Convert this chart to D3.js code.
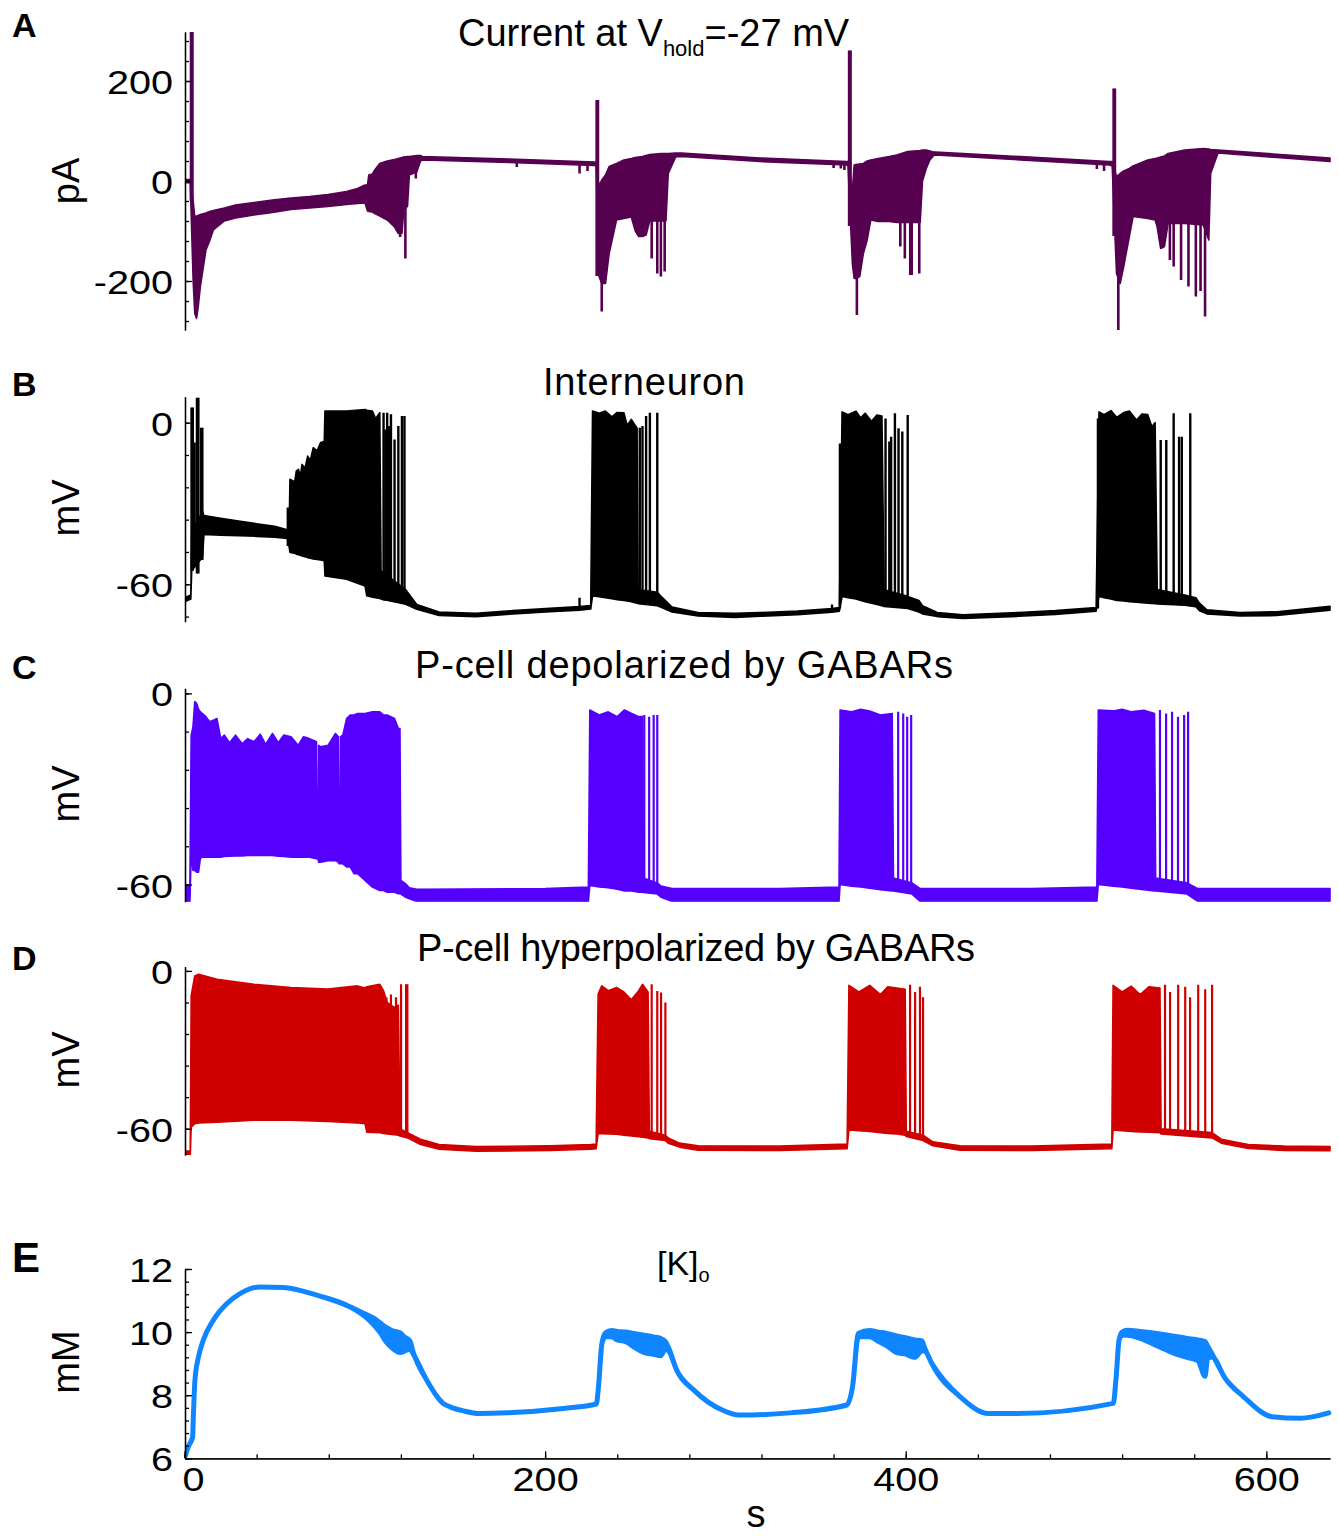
<!DOCTYPE html>
<html><head><meta charset="utf-8">
<script src="https://cdn.jsdelivr.net/npm/d3@7"></script>
<style>
body{margin:0;background:#fff}
svg text{font-family:"Liberation Sans",Arial,Helvetica,sans-serif;fill:#000}
</style></head>
<body><svg id="chart" width="1339" height="1536"></svg>
<script>
// ---------------- DATA (time in s, values in panel units) ----------------
// Envelopes: [t, upper, lower]; Spikes: [t, top, bottom]
const aEnv = [
[0,3,-3],[3.2,3,-4],[4.8,-40,-200],[5.7,-71,-265],[6.7,-70,-275],[7.5,-69,-255],[8.8,-67,-211],
[11.9,-64,-138],[13.9,-61,-120],[16.0,-59,-98],[22.1,-54,-80],[28.3,-48,-74],[38.5,-43,-68],
[48.8,-38,-63],[59.1,-34,-57],[69.3,-31,-54],[79.6,-27,-51],[89.9,-21,-47],[96.0,-15,-45],
[100.1,-8,-44],[101.5,-8,-60],[102.2,12,-61],[104.2,14,-62],[105.5,22,-65],[108.3,35,-70],
[112.4,40,-78],[116.5,43,-92],[118.6,45,-105],[120.6,47,-105],[121.6,48,-60],[123.7,49,-50],
[124.7,49,12],[128.8,51,18],[130.9,51,40],[131.9,49,42],[180,44,37],[227.3,38,31],[228.3,38,30],
[229.8,-10,-190],[231.4,2,-205],[233.5,12,-205],[235.5,29,-145],[239.6,35,-78],[243.7,42,-75],
[247.8,45,-72],[250.0,47,-100],[251.9,48,-111],[254.0,49,-111],[256.0,51,-108],[258.0,53,-80],
[264.2,55,-80],[267.0,55,-80],[268.3,55,15],[272.4,56,48],[275.5,56,49],[319.2,46,39],[367.3,39,32],
[368.0,39,30],[370.4,-20,-165],[371.4,32,-195],[372.4,33,-195],[374.5,34,-191],[376.5,35,-145],
[378.6,40,-118],[380.6,42,-78],[384.7,45,-81],[390.9,49,-81],[395.0,52,-83],[401.1,59,-83],
[408.0,61,-83],[409.3,62,0],[411.4,62,25],[413.4,60,42],[415.5,58,51],[416.5,58,52],[512.8,39,32],
[514.5,39,30],[516.9,9,-185],[518.9,15,-205],[520.9,20,-171],[524.0,25,-111],[526.1,30,-71],
[534.2,42,-75],[538.3,45,-78],[539.4,46,-91],[541.4,48,-135],[543.5,50,-131],[545.5,55,-85],
[554.7,62,-85],[565.0,65,-88],[568.1,64,-118],[569.1,63,15],[573.2,62,56],[635.3,46,39]
];
const aSpikes = [
[3.6,300,-40],[4.4,300,-60],[119.6,20,-112],[122.5,20,-155],[128.3,30,5],
[184.3,38,28],[219.1,35,15],[223.5,35,20],[228.6,162,-190],[229.3,162,-190],[231.4,-100,-261],
[259.1,0,-155],[262.2,0,-185],[264.2,0,-191],[266.3,0,-181],
[360,38,26],[364,36,25],[366,36,22],[368.6,261,-90],[369.4,261,-90],[372.9,-100,-268],
[397.0,-60,-131],[399.5,-60,-155],[402.5,-60,-188],[403.3,-60,-188],[407.5,-60,-185],
[506,36,24],[510,35,20],[515.3,185,-110],[516.0,185,-110],[517.9,-100,-298],
[546.5,-60,-158],[548.6,-60,-171],[552.7,-60,-198],[556.8,-60,-211],[560.9,-60,-231],[563.5,-60,-220],[566.0,-60,-271]
];

const bEnv = [
[0,-65.0,-66.5],[3.5,-64.0,-65.5],[4.0,-40,-55],[10.0,-33,-50],[10.8,-34.5,-41.5],[20,-35.5,-41.8],
[30,-36.5,-42],[40,-37.5,-42.2],[50,-38.5,-42.5],[57.0,-39.8,-43.0],[58.0,-39.8,-46],[58.5,-21,-48.2],
[61.1,-22,-48.5],[62.0,-18,-48.8],[63.2,-17.3,-49],[64.2,-20,-49.2],[65.2,-15.5,-49.5],[66.8,-17,-49.8],
[68.3,-12.4,-50.1],[69.8,-14,-50.3],[71.4,-9.3,-50.6],[73.5,-10.5,-50.8],
[75.5,-7.4,-51.0],[77.5,-7.0,-51.3],[77.9,4.3,-56.9],[89.9,4.3,-58.1],[100.1,4.9,-60.6],
[101.1,4.6,-64.3],[104.2,4.3,-64.8],[106,1.5,-65],[108.3,3.7,-65.3],[109.0,-55,-65.5],[122.7,-62,-67.4],
[128.8,-67.5,-69.3],[141.2,-70.3,-71.6],[161.7,-70.8,-72.0],[182.2,-69.8,-71.0],[202.7,-68.9,-70.2],
[219.1,-68.3,-69.6],[225.3,-67.9,-69.2],[226.3,4.3,-64.3],[230,3.5,-64.6],[233.4,4.3,-65],
[237,2.2,-65.4],[240,3.8,-65.7],[243.7,3.7,-66.0],[245.5,-1.0,-66.2],
[247.8,1.2,-66.5],[251.0,-2,-67.0],[251.6,-62,-67.2],[262.2,-63,-68],[264.3,-64.5,-68.5],
[270.4,-68.5,-70.3],[284.8,-70.5,-71.8],[305.3,-70.8,-72.3],[319.2,-70.5,-71.9],[340,-69.9,-71.3],
[359.1,-69.0,-70.4],[363.2,-68.6,-70.0],[364.7,4.0,-64.5],[368,3.0,-65],[372.4,4.3,-65.5],[375,1.8,-66],
[377.5,3.5,-66.5],[381,0.5,-67],[384,2.8,-67.5],
[386.8,2.5,-68],[388.0,-62,-68.2],[401.1,-64.5,-69.0],[407.3,-66,-70.3],[409.3,-68,-71.0],
[417.5,-70.5,-72.0],[431.8,-71.3,-72.7],[462.6,-70.5,-71.9],[483.0,-69.8,-71.2],[505.6,-68.6,-70.0],
[507.2,4.0,-64.5],[510,3.0,-65],[513.8,4.5,-65.5],[517,2.0,-66],[521,3.8,-66.2],[524.0,4.3,-66.5],
[528,1.0,-66.7],[531,3.2,-66.8],[534.2,3.0,-67.0],[536.5,-1.5,-67.1],[538.3,0,-67.2],
[539.5,-62,-67.3],[554.7,-64,-67.8],[560.9,-65,-68.3],[562.9,-67,-69.8],[567.0,-69.5,-71.0],
[585.4,-70.5,-71.8],[605.9,-70.2,-71.6],[635.3,-68.2,-69.6]
];
const bSpikes = [
[3.9,5.6,-55],[4.6,5.6,-55],[5.6,-7.4,-53],[6.9,9.3,-56],[7.7,9.3,-56],[9.2,-1.9,-51],[9.9,-1.9,-51],
[57.3,-31.5,-45.8],[110.4,3.7,-66],[111.4,-2.5,-66],[112.4,3.7,-66],[113.5,-1.2,-66],[114.5,3.1,-66.5],
[116.5,-6.2,-66.5],[118.6,-1.2,-67],[120.6,2.5,-67],[122.0,2.5,-67.2],[219.1,-65,-69.5],
[252.5,-1.9,-67],[254.0,-1.2,-67],[256.0,2.5,-67.2],[258.1,3.7,-67.5],[262.2,3.7,-68],
[359.1,-67.5,-70],[363.5,-7.7,-69],[388.8,1.6,-68],[390.9,-7.0,-68],[391.9,-5.2,-68],[394.0,3.5,-68.5],
[396.0,-2.1,-68.5],[398.1,-3.3,-68.8],[401.1,2.9,-69],
[506.6,1.6,-69],[541.4,-6.4,-67.3],[544.5,-6.4,-67.5],[548.6,3.5,-67.6],[551.6,-5.2,-67.8],
[553.1,-5.2,-67.8],[557.8,3.5,-68.2]
];

const cEnv = [
[0,-60.5,-65.3],[3.0,-60.5,-65.3],[3.7,-13.1,-50.4],[4.7,-10.5,-55.6],[5.7,-2.6,-55.6],[6.7,-3.1,-56.1],
[7.8,-5,-56.1],[8.8,-5.8,-51.9],[9.8,-6.3,-51.4],[11.9,-7.3,-51.4],[13.9,-8.9,-51.4],[16.0,-8.4,-51.4],
[18.0,-7.9,-51.4],[20.1,-14.2,-51.4],[22.1,-13.1,-51.2],[25,-15.5,-51.1],[28.3,-13.1,-51.0],[32,-15.8,-51],
[35,-14.2,-50.9],[38.5,-15.2,-50.9],[42,-12.8,-50.9],[45,-16,-50.9],
[48.8,-12.6,-50.9],[52,-15.5,-51.1],[55,-13.1,-51.2],[59.1,-13.6,-51.4],[63,-16.3,-51.4],[66,-13.6,-51.4],
[69.3,-14.2,-51.4],[73.2,-15.2,-51.9],[73.5,-45.6,-52],
[74.1,-45.6,-52],[74.4,-16.3,-53.0],[75.5,-16.8,-53.0],[79.6,-16.3,-52.5],[83.7,-12.6,-52.5],
[85.4,-13.6,-53.0],[85.7,-46.2,-53.5],[86.3,-46.2,-53.5],[86.6,-13.6,-53.5],[87.8,-13.1,-53.5],
[89.9,-7.9,-54.5],[91.9,-6.8,-54.5],[94.0,-6.8,-56.6],[96.0,-6.3,-56.6],[100.1,-6.3,-58.7],
[104.2,-5.8,-60.8],[108.3,-5.8,-61.9],[110.4,-6.8,-61.9],[112.4,-6.8,-62.4],[116.5,-7.9,-62.4],
[118.6,-11.0,-62.9],[119.5,-11.0,-62.9],[120.0,-58.7,-63],[122.7,-59.8,-64.0],[124.7,-61,-64.5],
[128.8,-61.5,-65.3],[200,-61.3,-65.3],[224.0,-60.8,-65.3],
[224.8,-5.2,-60.3],[230,-6.8,-60.8],[235,-5.8,-61],[240,-7.3,-61.5],[244,-5.2,-62],[248,-6.3,-62],
[252,-7.3,-62.4],[254.0,-7.3,-62.4],[254.5,-58,-62.5],[262.2,-59.5,-63],[264.3,-60.5,-64],
[270.4,-61.3,-65.3],[330,-61.3,-65.3],[363.0,-60.8,-65.3],
[363.6,-5.2,-60.0],[370,-5.8,-60.5],[375,-5.0,-60.8],[380,-5.5,-61.2],[386,-6.8,-61.6],[392.5,-6.3,-62],[393.2,-58,-62],
[403.5,-59.5,-63],[408,-61.3,-65.3],[470,-61.3,-65.3],[506.0,-60.8,-65.3],
[506.8,-5.2,-60.0],[515,-5.5,-60.5],[520,-5.0,-60.8],[525,-5.8,-61.2],[532,-5.3,-61.6],[538,-6.3,-62],[538.6,-58,-62],
[556,-59.5,-63],[562,-61.3,-65.3],[635.3,-61.3,-65.3]
];
const cSpikes = [
[255.0,-6.8,-62],[257.7,-7.3,-62],[260.2,-6.8,-62.5],[262.2,-6.8,-62.5],
[395.8,-5.8,-62],[398.6,-6.3,-62],[400.8,-7.3,-62.5],[403.0,-6.8,-62.5],
[541.0,-5.2,-62],[544.4,-6.3,-62],[547.7,-5.8,-62.2],[551.0,-7.3,-62.5],[554.4,-6.8,-62.5],[556.6,-5.8,-62.5]
];

const dEnv = [
[0,-68.5,-70],[3.2,-68.5,-70],[3.7,-9.5,-59.4],[5.7,-1.9,-58.1],[7.8,-1.3,-57.8],[18.0,-3.2,-57.5],
[38.5,-5.1,-56.8],[59.1,-6.3,-56.8],[79.6,-6.9,-57.2],[96.0,-5.7,-57.8],[100.1,-6.5,-58.1],
[101.1,-6.0,-61.3],[108.3,-5.1,-61.5],[110.4,-7.5,-61.8],[112.4,-12,-62.0],[116.5,-14,-62.3],
[118.6,-13,-62.5],[119.5,-60,-62.8],[123.7,-61.5,-63.5],[130.9,-64.0,-66.0],[141.2,-66.0,-67.8],
[161.7,-66.8,-68.6],[202.7,-66.5,-68.3],[225.3,-66.0,-67.8],[228.3,-65.8,-67.6],
[229.4,-8.8,-61.9],[231.4,-5.7,-61.9],[235,-7.5,-62],[239.6,-6.3,-62.1],[243.7,-8,-62.5],[247.8,-11,-62.8],
[251.9,-7.5,-63.0],[254.0,-5.1,-63.2],[257.1,-8,-63.5],[257.8,-61,-63.8],[266.7,-62.5,-64.5],
[268.3,-63.5,-65.5],[274.5,-65.5,-67.0],[284.8,-66.5,-68.2],[330,-66.6,-68.3],[367.5,-65.8,-67.6],
[368.5,-5.5,-60.5],[374,-8,-60.8],[380,-5.5,-61],[386,-9,-61.5],[390,-6,-61.8],[395,-6.5,-62],[399.7,-7,-62.5],[400.3,-61,-63],[409.6,-62.5,-64.5],
[415,-65,-66.5],[430,-66.5,-68.2],[470,-66.6,-68.3],[514.3,-65.8,-67.6],
[515.0,-5.5,-60.5],[520,-8,-60.8],[525,-5.8,-61],[530,-9,-61.2],[535,-6,-61.3],[541.0,-6.5,-61.5],[541.6,-60,-62],[569.9,-61.5,-63.5],
[575,-64,-65.5],[590,-66,-67.5],[610,-66.6,-68.3],[635.3,-66.8,-68.4]
];
const dSpikes = [
[112.0,-10,-62],[114.5,-9,-62],[117.3,-10,-62.3],[120.1,-5.1,-62.8],[122.9,-5.1,-63],[123.6,-5.1,-63],
[259.1,-5.1,-63.5],[262.2,-7.6,-63.8],[264.3,-8.2,-64],[266.7,-12,-64.2],
[402.4,-5.3,-63],[405.2,-8,-63.5],[407.9,-6,-63.5],[409.6,-10,-64],
[543.8,-5.3,-62],[546.6,-8,-62],[551.1,-5.3,-62.2],[555.0,-6,-62.5],[557.7,-10,-62.5],
[562.2,-5.3,-63],[566.1,-7,-63],[569.9,-5.3,-63.5]
];

const eEnv = [
[0.3,6.05,6.05],[2.1,6.37,6.37],[4.5,6.68,6.68],[4.9,7.32,7.32],[5.8,8.48,8.48],[7.7,9.2,9.2],
[10.4,9.74,9.74],[16.0,10.38,10.38],[23.4,10.9,10.9],[30.8,11.22,11.22],[41.9,11.43,11.43],
[54.8,11.41,11.41],[73.3,11.17,11.17],[91.8,10.80,10.80],[100,10.58,10.5],[104.7,10.45,10.25],
[108.3,10.3,10.0],[112.1,10.14,9.67],[115.0,10.05,9.5],[119.5,9.98,9.35],[122,9.85,9.4],
[125,9.72,9.46],[126.9,9.35,9.3],[134.3,8.48,8.48],[143.5,7.74,7.74],[147.3,7.63,7.63],
[155,7.5,7.5],[163,7.42,7.42],[178.7,7.44,7.44],[210.1,7.58,7.58],[228.4,7.72,7.72],
[229.6,8.27,8.27],[231.5,9.64,9.64],[233.5,9.98,9.85],[236.9,10.05,9.85],[240,10.02,9.75],
[244.7,10.0,9.7],[250,9.95,9.5],[255,9.9,9.35],[260,9.85,9.3],[264,9.8,9.25],[266.7,9.7,9.45],
[268.5,9.5,9.4],[273.0,8.79,8.79],[282.5,8.16,8.16],[298.2,7.53,7.53],[307.6,7.37,7.37],
[335.9,7.44,7.44],[367.3,7.69,7.69],[370.5,8.27,8.27],[373.7,9.96,9.85],[379.9,10.05,9.85],
[385,10.0,9.7],[390,9.95,9.55],[395,9.88,9.35],[400,9.82,9.3],[405,9.75,9.2],[409,9.72,9.4],
[410.5,9.5,9.4],[414.5,9.0,9.0],[430.2,7.95,7.95],[446.0,7.42,7.42],[461.7,7.42,7.42],
[515.1,7.74,7.74],[516.7,8.58,8.58],[518.3,9.74,9.74],[520,10.0,9.9],[523,10.06,9.9],
[530,10.02,9.8],[540,9.95,9.55],[548,9.88,9.35],[556,9.8,9.2],[562,9.75,9.1],[566,9.7,8.6],
[567.5,9.55,9.2],[570,9.3,9.2],[577,8.55,8.55],[587.4,7.95,7.95],[603.2,7.32,7.32],
[618.9,7.27,7.27],[634.6,7.44,7.44]
];

// Tick values
const aMajor = [-200,0,200];
const aMinor = [-280,-240,-200,-160,-120,-80,-40,0,40,80,120,160,200,240,280];
const bMajor = [-60,0];
const bMinor = [-72,-60,-48,-36,-24,-12,0];
const cMajor = [-60,0];
const cMinor = [-60,-48,-36,-24,-12,0];
const dMajor = [-60,0];
const dMinor = [-60,-48,-36,-24,-12,0];
const eMajor = [6,8,10,12];
const eMinor = [6,6.4,6.8,7.2,7.6,8,8.4,8.8,9.2,9.6,10,10.4,10.8,11.2,11.6,12];
const tMajor = [0,200,400,600];
const tMinor = [0,40,80,120,160,200,240,280,320,360,400,440,480,520,560,600];
const timeDomain = [0,635.3];

// ---------------- LAYOUT ----------------
const svg = d3.select("#chart");
svg.append("rect").attr("width",1339).attr("height",1536).attr("fill","#fff");
const x = d3.scaleLinear().domain(timeDomain).range([184.5,1330]);
const axisX = 185;
const FONT = '"Liberation Sans",Arial,Helvetica,sans-serif';
const fmt = d => String(d);

const panels = [
 {key:"A", env:aEnv, spikes:aSpikes, color:"#560050", dom:[-298,298], rng:[330,32], major:aMajor, minor:aMinor,
  sw:2.6, unit:"pA", unitY:181, letterY:37, letterSize:34},
 {key:"B", env:bEnv, spikes:bSpikes, color:"#000000", dom:[-73.9,9.65], rng:[621.7,396.7], major:bMajor, minor:bMinor,
  sw:2.4, unit:"mV", unitY:508, letterY:396, letterSize:34},
 {key:"C", env:cEnv, spikes:cSpikes, color:"#5500ff", dom:[-65.4,1.6], rng:[901.7,688.3], major:cMajor, minor:cMinor,
  sw:2.2, unit:"mV", unitY:794, letterY:679, letterSize:34},
 {key:"D", env:dEnv, spikes:dSpikes, color:"#d10000", dom:[-70,1.6], rng:[1155,966.7], major:dMajor, minor:dMinor,
  sw:2.2, unit:"mV", unitY:1060, letterY:970, letterSize:34},
 {key:"E", env:eEnv, spikes:[], color:"#0f86ff", dom:[6,12], rng:[1458.3,1269], major:eMajor, minor:eMinor,
  sw:5, unit:"mM", unitY:1362, letterY:1272, letterSize:42}
];

panels.forEach((p,i)=>{
  const y = d3.scaleLinear().domain(p.dom).range(p.rng);
  const g = svg.append("g");
  const isE = p.key==="E";
  const clipId = "clip"+p.key;
  g.append("clipPath").attr("id",clipId).append("rect")
    .attr("x",axisX).attr("y",p.rng[1]-(isE?4:0)).attr("width",1339-axisX)
    .attr("height",p.rng[0]-p.rng[1]+(isE?4:0));
  const plot = g.append("g").attr("clip-path","url(#"+clipId+")");

  const area = d3.area().x(d=>x(d[0])).y0(d=>y(d[2])).y1(d=>y(d[1]))
    .curve(isE ? d3.curveMonotoneX : d3.curveLinear);
  plot.append("path").datum(p.env).attr("d",area)
    .attr("fill",p.color).attr("stroke",p.color)
    .attr("stroke-width", isE?5:1.6).attr("stroke-linejoin","round");
  plot.selectAll("line.spk").data(p.spikes).join("line").attr("class","spk")
    .attr("x1",d=>x(d[0])).attr("x2",d=>x(d[0]))
    .attr("y1",d=>y(d[1])).attr("y2",d=>y(d[2]))
    .attr("stroke",p.color).attr("stroke-width",p.sw);

  // minor ticks
  g.append("g").attr("transform",`translate(${axisX},0)`)
    .call(d3.axisLeft(y).tickValues(p.minor).tickSizeInner(-4).tickSizeOuter(0).tickFormat(""))
    .call(a=>a.selectAll("path,line").attr("stroke","#000").attr("stroke-width",1.3));
  // major ticks + labels
  const ax = g.append("g").attr("transform",`translate(${axisX},0)`)
    .call(d3.axisLeft(y).tickValues(p.major).tickSizeInner(-7).tickSizeOuter(0).tickPadding(10).tickFormat(fmt))
    .attr("font-family",FONT).attr("font-size",33);
  ax.selectAll("path,line").attr("stroke","#000").attr("stroke-width",1.3);
  ax.selectAll(".tick text").attr("fill","#000").attr("transform","scale(1.2,1)").attr("dy","0.38em");

  // unit label
  svg.append("text").attr("transform",`translate(79,${p.unitY}) rotate(-90)`)
    .attr("text-anchor","middle").attr("font-size",38).text(p.unit);
  // panel letter
  svg.append("text").attr("x",12).attr("y",p.letterY).attr("font-weight","bold")
    .attr("font-size",p.letterSize).text(p.key);

  if(isE){
    const xm = g.append("g").attr("transform",`translate(0,${p.rng[0]})`)
      .call(d3.axisBottom(x).tickValues(tMinor).tickSizeInner(-4).tickSizeOuter(0).tickFormat(""));
    xm.selectAll("path,line").attr("stroke","#000").attr("stroke-width",1.3);
    const xa = g.append("g").attr("transform",`translate(0,${p.rng[0]})`)
      .call(d3.axisBottom(x).tickValues(tMajor).tickSizeInner(-7).tickSizeOuter(0).tickPadding(9).tickFormat(fmt))
      .attr("font-family",FONT).attr("font-size",33);
    xa.selectAll("path,line").attr("stroke","#000").attr("stroke-width",1.3);
    xa.selectAll(".tick text").attr("fill","#000").attr("transform","scale(1.2,1)")
      .attr("dx",d=>d===0?7:0);
  }
});

// titles
const tA = svg.append("text").attr("x",458).attr("y",46).attr("font-size",38);
tA.append("tspan").text("Current at V");
tA.append("tspan").attr("font-size",22).attr("dy",10).text("hold");
tA.append("tspan").attr("dy",-10).text("=-27 mV");
svg.append("text").attr("x",543).attr("y",395).attr("font-size",38)
  .attr("textLength",202).text("Interneuron");
svg.append("text").attr("x",415).attr("y",678).attr("font-size",38)
  .attr("textLength",538).text("P-cell depolarized by GABARs");
svg.append("text").attr("x",417).attr("y",961).attr("font-size",38)
  .attr("textLength",558).text("P-cell hyperpolarized by GABARs");
const tE = svg.append("text").attr("x",657).attr("y",1275).attr("font-size",34);
tE.append("tspan").text("[K]");
tE.append("tspan").attr("font-size",20).attr("dy",7).text("o");
svg.append("text").attr("x",756).attr("y",1527).attr("text-anchor","middle").attr("font-size",38).text("s");
</script></body></html>
